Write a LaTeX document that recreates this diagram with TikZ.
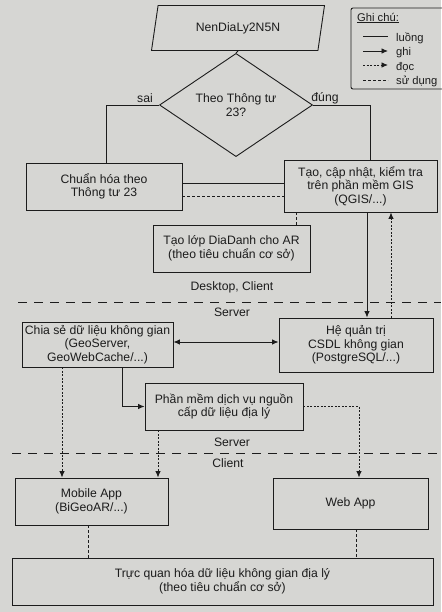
\documentclass[tikz,border=0pt]{standalone}
\usepackage{fontspec}
\setmainfont{Liberation Sans}
\usetikzlibrary{shapes.geometric,arrows.meta}
\definecolor{bgc}{RGB}{214,214,211}
\definecolor{ink}{RGB}{28,28,28}
\begin{document}
\begin{tikzpicture}[x=1pt,y=-1pt,
  every node/.style={text=ink,font=\fontsize{12.2}{13.5}\selectfont},
  box/.style={draw=ink,line width=0.9pt,rectangle,align=center,inner sep=1pt},
  flow/.style={draw=ink,line width=0.9pt},
  wr/.style={flow,-{Latex[length=6.5pt,width=5.5pt]}},
  rd/.style={flow,dash pattern=on 2pt off 1.5pt,-{Latex[length=6.5pt,width=5.5pt]}},
  use/.style={flow,dash pattern=on 3pt off 2pt},
  sep/.style={draw=ink,line width=0.9pt,dash pattern=on 9pt off 7pt},
  lbl/.style={inner sep=0pt},
  leg/.style={inner sep=0pt,anchor=west,font=\fontsize{11.2}{13}\selectfont}]
\fill[bgc] (0,0) rectangle (441,612);
\useasboundingbox (0,0) rectangle (441,612);

% input
\node[flow,shape=trapezium,trapezium left angle=73,trapezium right angle=107,
  trapezium stretches=true,minimum width=174pt,minimum height=45pt,inner sep=0pt] (inp) at (238,28) {NenDiaLy2N5N};
% decision
\node[flow,shape=diamond,minimum width=153pt,minimum height=55pt,inner sep=0pt,align=center] (dia) at (236,105) {Theo Thông tư\\23?};
\node[lbl] (sai) at (145,98) {sai};
\node[lbl] (dung) at (325,98) {đúng};

% boxes
\node[box,minimum width=156pt,minimum height=47pt] (chuan) at (104,186.5) {Chuẩn hóa theo\\Thông tư 23};
\node[box,minimum width=153pt,minimum height=52pt] (tao) at (360.5,186) {Tạo, cập nhật, kiểm tra\\trên phần mềm GIS\\(QGIS/...)};
\node[box,minimum width=157pt,minimum height=47pt] (dd) at (231.5,248.5) {Tạo lớp DiaDanh cho AR\\(theo tiêu chuẩn cơ sở)};
\node[box,minimum width=154pt,minimum height=54pt] (hqt) at (356,345) {Hệ quản trị\\CSDL không gian\\(PostgreSQL/...)};
\node[box,minimum width=151pt,minimum height=45pt] (cs) at (97.5,344.5) {Chia sẻ dữ liệu không gian\\(GeoServer,\\GeoWebCache/...)};
\node[box,minimum width=158pt,minimum height=47pt] (pm) at (224,406.5) {Phần mềm dịch vụ nguồn\\cấp dữ liệu địa lý};
\node[box,minimum width=153pt,minimum height=47pt] (mob) at (91.5,501.5) {Mobile App\\(BiGeoAR/...)};
\node[box,minimum width=155pt,minimum height=51pt] (web) at (350.5,503.5) {Web App};
\node[box,minimum width=421pt,minimum height=47pt] (tq) at (222.5,581.5) {Trực quan hóa dữ liệu không gian địa lý\\(theo tiêu chuẩn cơ sở)};

% zone labels
\node[lbl] (dc) at (232,287) {Desktop, Client};
\node[lbl] (sv1) at (232,312) {Server};
\node[lbl] (sv2) at (232,442) {Server};
\node[lbl] (cl) at (228,463) {Client};
\coordinate (s1a) at (18,302); \coordinate (s1b) at (441,302);
\coordinate (s2a) at (12,453); \coordinate (s2b) at (441,453);
\draw[sep] (s1a) -- (s1b);
\draw[sep] (s2a) -- (s2b);

% connectors
\draw[flow] (inp.south) -- (dia.north);
\draw[flow] (dia.west) -| ([xshift=2pt]chuan.north);
\draw[flow] (dia.east) -| ([xshift=9.5pt]tao.north);
\draw[flow] ([yshift=3.5pt]chuan.east) -- ([yshift=3.5pt]chuan.east -| tao.west);
\draw[use] ([yshift=-9.5pt]chuan.east) -- ([yshift=-9.5pt]chuan.east -| tao.west);
\draw[use] ([xshift=-64.5pt]tao.south) -- ([xshift=-64.5pt]tao.south |- dd.north);
\draw[wr] ([xshift=6.5pt]tao.south) -- ([xshift=6.5pt]tao.south |- hqt.north);
\draw[rd] ([xshift=30.5pt]tao.south |- hqt.north) -- ([xshift=30.5pt]tao.south);
\draw[flow,{Latex[length=6.5pt,width=5.5pt]}-{Latex[length=6.5pt,width=5.5pt]}] ([yshift=2.5pt]cs.east) -- ([yshift=2.5pt]cs.east -| hqt.west);
\draw[wr] ([xshift=24.5pt]cs.south) |- (pm.west);
\draw[rd] ([xshift=-35.5pt]cs.south) -- ([xshift=-35.5pt]cs.south |- mob.north);
\draw[rd] ([xshift=-66pt]pm.south) -- ([xshift=-66pt]pm.south |- mob.north);
\draw[rd] (pm.east) -| ([xshift=8.5pt]web.north);
\draw[use] ([xshift=-3.5pt]mob.south) -- ([xshift=-3.5pt]mob.south |- tq.north);
\draw[use] ([xshift=5.5pt]web.south) -- ([xshift=5.5pt]web.south |- tq.north);

% legend
\draw[flow,rounded corners=2pt] (351,8) rectangle (446,89);
\node[leg] (gc) at (357,18) {\underline{Ghi chú:}};
\coordinate (l1a) at (363,36); \coordinate (l1b) at (388,36);
\coordinate (l2a) at (363,51); \coordinate (l2b) at (388,51);
\coordinate (l3a) at (363,65); \coordinate (l3b) at (388,65);
\coordinate (l4a) at (363,80); \coordinate (l4b) at (388,80);
\draw[flow] (l1a) -- (l1b);
\draw[wr] (l2a) -- (l2b);
\draw[rd] (l3a) -- (l3b);
\draw[use] (l4a) -- (l4b);
\node[leg] (t1) at (396,38) {luồng};
\node[leg] (t2) at (396,53) {ghi};
\node[leg] (t3) at (396,67) {đọc};
\node[leg] (t4) at (396,81) {sử dụng};
\end{tikzpicture}
\end{document}
